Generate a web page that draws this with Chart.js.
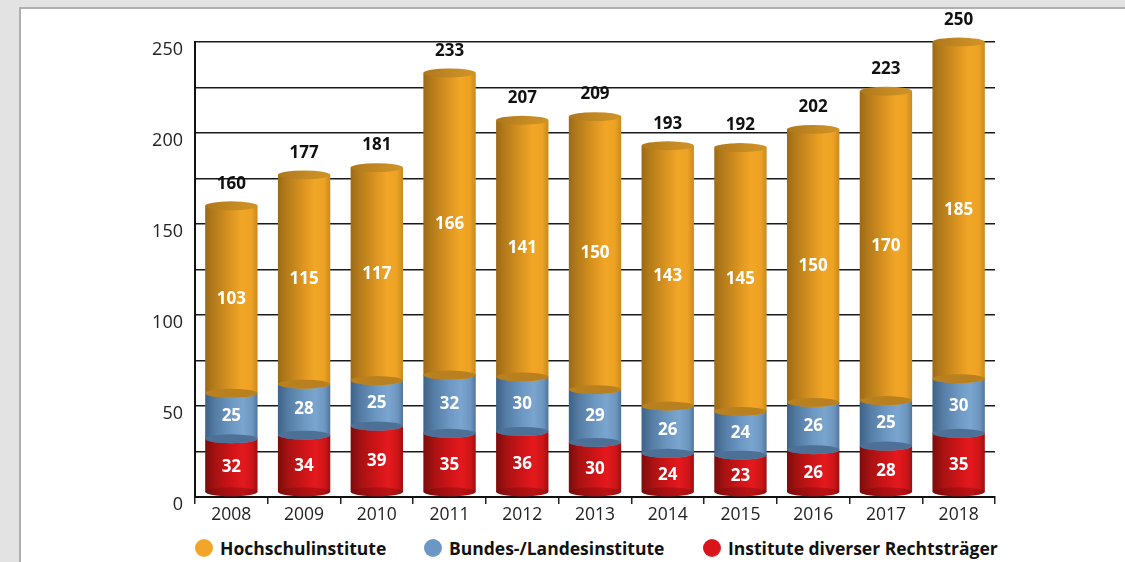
<!DOCTYPE html>
<html><head><meta charset="utf-8">
<script src="https://cdn.jsdelivr.net/npm/chart.js@4.4.1/dist/chart.umd.min.js"></script>
<style>
html,body{margin:0;padding:0;width:1125px;height:562px;overflow:hidden;background:#e3e3e3;font-family:"Open Sans",sans-serif;}
#panel{position:absolute;left:19px;top:7px;width:1110px;height:560px;background:#fff;border-left:2px solid #b0b0b0;border-top:2px solid #b0b0b0;}
#chart{position:absolute;left:0;top:0;}
#legend{position:absolute;top:537px;left:0;height:22px;width:1125px;}
.item{position:absolute;top:0;height:22px;display:flex;align-items:center;font-weight:700;font-size:17.5px;color:#111;white-space:nowrap;}
.dot{width:18px;height:18px;border-radius:50%;margin-right:7px;}
</style></head>
<body>
<div id="panel"></div>
<canvas id="chart" width="1125" height="530"></canvas>
<div id="legend"></div>
<script>
const categories = ['2008','2009','2010','2011','2012','2013','2014','2015','2016','2017','2018'];
const instituteDiverserRechtstraeger = [32,34,39,35,36,30,24,23,26,28,35];
const bundesLandesinstitute = [25,28,25,32,30,29,26,24,26,25,30];
const hochschulinstitute = [103,115,117,166,141,150,143,145,150,170,185];
const totals = [160,177,181,233,207,209,193,192,202,223,250];
const seriesNames = ['Institute diverser Rechtsträger','Bundes-/Landesinstitute','Hochschulinstitute'];
const yTickLabels = [0,50,100,150,200,250];
const legendOrder = ['Hochschulinstitute','Bundes-/Landesinstitute','Institute diverser Rechtsträger'];

const palettes = [
  { // red
    body:[[0,'#7c0c0c'],[0.2,'#a81212'],[0.5,'#cf1418'],[0.72,'#e4191d'],[0.9,'#cc1518'],[1,'#9c1010']],
    face:'rgba(110,8,8,0.35)', dot:'#d9141b'
  },
  { // blue
    body:[[0,'#3f6286'],[0.2,'#557da5'],[0.5,'#6c98c3'],[0.72,'#7aa5cf'],[0.9,'#6d96bf'],[1,'#50759c']],
    face:'#4d7196', dot:'#6b97c4'
  },
  { // orange
    body:[[0,'#9c6a16'],[0.15,'#b27a1a'],[0.45,'#d8921f'],[0.7,'#f2a626'],[0.88,'#eda224'],[1,'#c98a1e']],
    face:'#b98020', cap:[[0,'#ad771b'],[0.6,'#c68b23'],[1,'#cf9327']], dot:'#f2a526'
  }
];

const cylinderPlugin = {
  id:'cylinders',
  afterDatasetsDraw(chart){
    const ctx = chart.ctx;
    const nDs = chart.data.datasets.length;
    const yScale = chart.scales.y;
    for(let i=0;i<chart.data.labels.length;i++){
      for(let d=0; d<nDs; d++){
        const el = chart.getDatasetMeta(d).data[i];
        const pal = palettes[d];
        const w = el.width, x = el.x, L = x-w/2, R = x+w/2;
        const ry = w*0.085;
        const yT = el.y;
        let yB = el.base;
        if(d===0) yB -= ry;
        const g = ctx.createLinearGradient(L,0,R,0);
        pal.body.forEach(s=>g.addColorStop(s[0],s[1]));
        ctx.save();
        ctx.fillStyle = g;
        ctx.beginPath();
        ctx.moveTo(L,yT); ctx.lineTo(R,yT); ctx.lineTo(R,yB);
        ctx.ellipse(x,yB,w/2,ry,0,0,Math.PI,false);
        ctx.closePath(); ctx.fill();
        ctx.beginPath(); ctx.ellipse(x,yB,w/2,ry,0,0,Math.PI*2);
        ctx.fillStyle = pal.face; ctx.fill();
        if(d===nDs-1){
          const gc = ctx.createLinearGradient(L,0,R,0);
          pal.cap.forEach(s=>gc.addColorStop(s[0],s[1]));
          ctx.beginPath(); ctx.ellipse(x,yT,w/2,ry,0,0,Math.PI*2);
          ctx.fillStyle = gc; ctx.fill();
        }
        ctx.restore();
      }
    }
    ctx.save();
    ctx.textAlign='center'; ctx.textBaseline='middle';
    ctx.font='700 17px "Open Sans"';
    ctx.fillStyle='#ffffff';
    for(let d=0; d<nDs; d++){
      const meta = chart.getDatasetMeta(d);
      meta.data.forEach((el,i)=>{
        const v = chart.data.datasets[d].data[i];
        ctx.fillText(String(v), el.x, (el.y+el.base)/2);
      });
    }
    ctx.fillStyle='#111111';
    totals.forEach((t,i)=>{
      const el = chart.getDatasetMeta(nDs-1).data[i];
      ctx.fillText(String(t), el.x, yScale.getPixelForValue(t)-22);
    });
    ctx.restore();
  }
};

const seriesData = [instituteDiverserRechtstraeger, bundesLandesinstitute, hochschulinstitute];

new Chart(document.getElementById('chart'), {
  type:'bar',
  data:{
    labels: categories,
    datasets: seriesData.map((arr,d)=>({
      label: seriesNames[d],
      data: arr,
      backgroundColor:'rgba(0,0,0,0)',
      borderWidth:0,
      barPercentage:0.72,
      categoryPercentage:1
    }))
  },
  options:{
    responsive:false,
    animation:false,
    devicePixelRatio:1,
    layout:{padding:{left:0,right:130,top:42,bottom:0}},
    plugins:{legend:{display:false},tooltip:{enabled:false}},
    scales:{
      x:{
        stacked:true,
        grid:{display:true,drawOnChartArea:false,drawTicks:true,tickLength:7,color:'#222',lineWidth:1.5,offset:true},
        border:{display:true,color:'#111',width:2},
        ticks:{font:{family:'"Open Sans"',size:17.5},color:'#222',padding:1},
        afterFit(s){ s.height = 33; }
      },
      y:{
        stacked:true,
        min:0,max:250,
        grid:{color:'#1a1a1a',lineWidth:1.5,drawTicks:false},
        border:{display:true,color:'#111',width:2},
        ticks:{stepSize:25,font:{family:'"Open Sans"',size:18},color:'#222',padding:12,labelOffset:8,
          callback:(v)=> yTickLabels.includes(v) ? String(v) : ''},
        afterFit(s){ s.width = 195; }
      }
    }
  },
  plugins:[cylinderPlugin]
});

const legendEl = document.getElementById('legend');
const legendLefts = [195,424,703];
legendOrder.forEach((name,k)=>{
  const d = seriesNames.indexOf(name);
  const item = document.createElement('div');
  item.className='item';
  item.style.left = legendLefts[k]+'px';
  const dot = document.createElement('span');
  dot.className='dot';
  const c = palettes[d].dot;
  dot.style.background = 'radial-gradient(circle at 45% 40%, '+c+' 55%, '+c+'cc 100%)';
  const txt = document.createElement('span');
  txt.textContent = name;
  item.appendChild(dot); item.appendChild(txt);
  legendEl.appendChild(item);
});
</script>
</body></html>
